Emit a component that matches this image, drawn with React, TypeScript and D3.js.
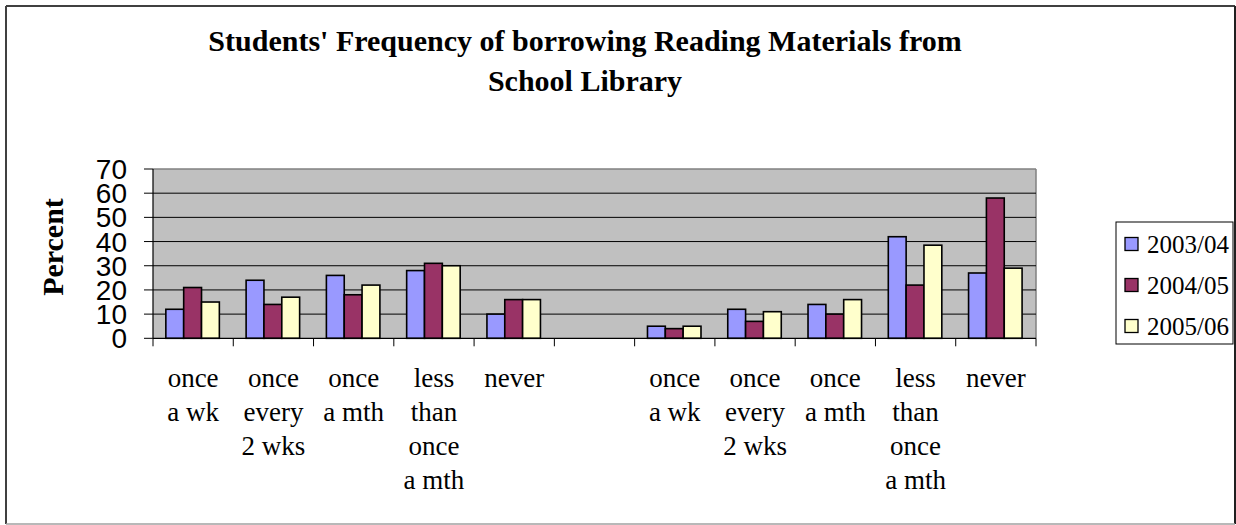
import React from "react";
import * as d3 from "d3";

const categories: string[][] = [
  ["once", "a wk"],
  ["once", "every", "2 wks"],
  ["once", "a mth"],
  ["less", "than", "once", "a mth"],
  ["never"],
  [],
  ["once", "a wk"],
  ["once", "every", "2 wks"],
  ["once", "a mth"],
  ["less", "than", "once", "a mth"],
  ["never"],
];

const seriesNames = ["2003/04", "2004/05", "2005/06"];
const seriesColors = ["#9999FF", "#993366", "#FFFFCC"];

const values2003: (number | null)[] = [12, 24, 26, 28, 10, null, 5, 12, 14, 42, 27];
const values2004: (number | null)[] = [21, 14, 18, 31, 16, null, 4, 7, 10, 22, 58];
const values2005: (number | null)[] = [15, 17, 22, 30, 16, null, 5, 11, 16, 38.5, 29];

const yTicks = [0, 10, 20, 30, 40, 50, 60, 70];

const title = ["Students' Frequency of borrowing Reading Materials from", "School Library"];
const yTitle = "Percent";

export default function App() {
  const W = 1236;
  const H = 525;
  const left = 153;
  const right = 1036;
  const top = 169;
  const bottom = 338.3;

  const allSeries = [values2003, values2004, values2005];
  const idx = categories.map((_, i) => String(i));

  const x = d3.scaleBand<string>().domain(idx).range([left, right]).paddingInner(0).paddingOuter(0);
  const bw = x.bandwidth();
  const barW = bw / 4.5;
  const xs = d3
    .scaleBand<string>()
    .domain(seriesNames)
    .range([0.72 * barW, 0.72 * barW + 3 * barW])
    .padding(0);
  const y = d3.scaleLinear().domain([0, 70]).range([bottom, top]);

  const serif = "'Liberation Serif', 'Times New Roman', serif";
  const sans = "'Liberation Sans', Arial, sans-serif";

  const boundaries = d3.range(categories.length + 1).map((i) => left + i * bw);

  return (
    <svg
      width={W}
      height={H}
      viewBox={`0 0 ${W} ${H}`}
      style={{ position: "absolute", left: 0, top: 0, background: "#fff" }}
    >
      {/* outer frame */}
      <rect x={6} y={6} width={1229} height={518} fill="#fff" stroke="none" />
      <line x1={6} y1={6} x2={1235} y2={6} stroke="#404040" strokeWidth={2} />
      <line x1={6} y1={6} x2={6} y2={524} stroke="#404040" strokeWidth={2} />
      <line x1={1235} y1={6} x2={1235} y2={524} stroke="#202020" strokeWidth={2} />
      <line x1={6} y1={524} x2={1235} y2={524} stroke="#a0a0a0" strokeWidth={1.5} />

      {/* title */}
      {title.map((t, i) => (
        <text
          key={i}
          x={585}
          y={51 + i * 40}
          textAnchor="middle"
          fontFamily={serif}
          fontWeight="bold"
          fontSize={30}
          fill="#000"
        >
          {t}
        </text>
      ))}

      {/* plot area */}
      <rect x={left} y={top} width={right - left} height={bottom - top} fill="#C0C0C0" />
      <line x1={left} y1={top} x2={right} y2={top} stroke="#808080" strokeWidth={1.5} />
      <line x1={right} y1={top} x2={right} y2={bottom} stroke="#808080" strokeWidth={1.5} />

      {/* gridlines */}
      {yTicks.slice(1, -1).map((t) => (
        <line key={t} x1={left} x2={right} y1={y(t)} y2={y(t)} stroke="#000" strokeWidth={1} />
      ))}

      {/* bars */}
      {allSeries.map((vals, si) =>
        vals.map((v, ci) =>
          v == null ? null : (
            <rect
              key={`${si}-${ci}`}
              x={(x(String(ci)) as number) + (xs(seriesNames[si]) as number)}
              y={y(v)}
              width={xs.bandwidth()}
              height={y(0) - y(v)}
              fill={seriesColors[si]}
              stroke="#000"
              strokeWidth={1.6}
            />
          )
        )
      )}

      {/* y axis */}
      <line x1={left} y1={top} x2={left} y2={bottom} stroke="#000" strokeWidth={1.2} />
      {yTicks.map((t) => (
        <g key={t}>
          <line x1={left - 9} x2={left} y1={y(t)} y2={y(t)} stroke="#000" strokeWidth={1} />
          <text
            x={127}
            y={y(t)}
            dy="0.36em"
            textAnchor="end"
            fontFamily={sans}
            fontSize={28}
            fill="#000"
          >
            {t}
          </text>
        </g>
      ))}

      {/* x axis */}
      <line x1={left} y1={bottom} x2={right} y2={bottom} stroke="#000" strokeWidth={1.2} />
      {boundaries.map((b, i) => (
        <line key={i} x1={b} x2={b} y1={bottom} y2={bottom + 8} stroke="#000" strokeWidth={1} />
      ))}
      {categories.map((lines, ci) => (
        <text
          key={ci}
          x={(x(String(ci)) as number) + bw / 2}
          textAnchor="middle"
          fontFamily={serif}
          fontSize={27}
          fill="#000"
        >
          {lines.map((ln, li) => (
            <tspan key={li} x={(x(String(ci)) as number) + bw / 2} y={387 + li * 34}>
              {ln}
            </tspan>
          ))}
        </text>
      ))}

      {/* y title */}
      <text
        transform={`translate(63,247) rotate(-90)`}
        textAnchor="middle"
        fontFamily={serif}
        fontWeight="bold"
        fontSize={30}
        fill="#000"
      >
        {yTitle}
      </text>

      {/* legend */}
      <rect x={1116} y={222} width={117} height={122} fill="#fff" stroke="#000" strokeWidth={1} />
      {seriesNames.map((s, i) => {
        const cy = 244 + i * 41;
        return (
          <g key={s}>
            <rect x={1125} y={cy - 6.5} width={13} height={13} fill={seriesColors[i]} stroke="#000" strokeWidth={1.3} />
            <text x={1147} y={cy + 9} fontFamily={serif} fontSize={25} fill="#000">
              {s}
            </text>
          </g>
        );
      })}
    </svg>
  );
}
